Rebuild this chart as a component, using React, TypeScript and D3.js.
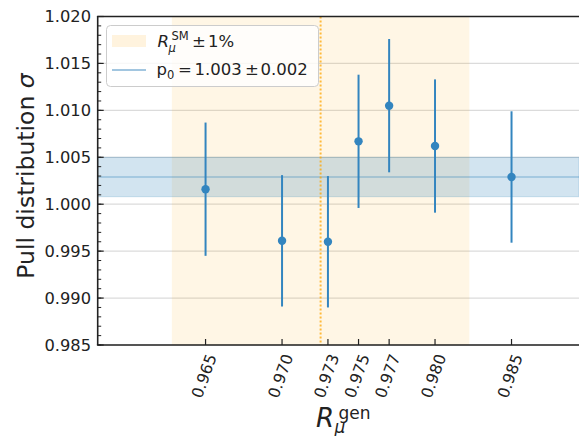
import React from "react";
import * as d3 from "d3";

const rGen = [0.965, 0.970, 0.973, 0.975, 0.977, 0.980, 0.985];
const rGenLabels = ["0.965", "0.970", "0.973", "0.975", "0.977", "0.980", "0.985"];
const pullMean = [1.0016, 0.9961, 0.9960, 1.0067, 1.0105, 1.0062, 1.0029];
const pullErr = [0.0071, 0.0070, 0.0070, 0.0071, 0.0071, 0.0071, 0.0070];
const yTicks = [0.985, 0.990, 0.995, 1.000, 1.005, 1.010, 1.015, 1.020];
const rSM = 0.97252;
const rSMRel = 0.01;
const p0 = 1.0029;
const p0Err = 0.0021;

const W = 579;
const H = 436;
const L = 97.7;
const T = 16.5;
const B = 345;
const R = 579.6;

const FONT = "DejaVu Sans";
const BLUE = "#3385bf";
const TAB = "#1f77b4";

export default function App() {
  const x = d3.scaleLinear().domain([0.95795, 0.98945]).range([L, R]);
  const y = d3.scaleLinear().domain([0.985, 1.020]).range([B, T]);
  const minor = d3.range(0, 36).map((i) => 0.985 + i * 0.001).filter((v) => v < 1.0201);

  return (
    <svg
      width={W}
      height={H}
      style={{ position: "absolute", left: 0, top: 0, background: "#fff" }}
      fontFamily={FONT}
    >
      {/* grid */}
      {yTicks.map((v, i) => (
        <line key={"g" + i} x1={L} x2={W} y1={y(v)} y2={y(v)} stroke="#b0b0b0" strokeOpacity={0.45} strokeWidth={1.2} />
      ))}
      {/* R_SM band */}
      <rect
        x={x(rSM * (1 - rSMRel))}
        y={T}
        width={x(rSM * (1 + rSMRel)) - x(rSM * (1 - rSMRel))}
        height={B - T}
        fill="orange"
        fillOpacity={0.1}
      />
      {/* p0 band */}
      <rect
        x={L}
        y={y(p0 + p0Err)}
        width={W - L}
        height={y(p0 - p0Err) - y(p0 + p0Err)}
        fill={TAB}
        fillOpacity={0.2}
        stroke={TAB}
        strokeOpacity={0.2}
        strokeWidth={1}
      />
      <line x1={L} x2={W} y1={y(p0)} y2={y(p0)} stroke={TAB} strokeOpacity={0.5} strokeWidth={1.2} />
      {/* R_SM dotted line */}
      <line x1={x(rSM)} x2={x(rSM)} y1={T} y2={B} stroke="orange" strokeOpacity={0.75} strokeWidth={2} strokeDasharray="2,2" />
      {/* error bars */}
      {rGen.map((r, i) => (
        <g key={"p" + i}>
          <line x1={x(r)} x2={x(r)} y1={y(pullMean[i] + pullErr[i])} y2={y(pullMean[i] - pullErr[i])} stroke={BLUE} strokeWidth={2} />
          <circle cx={x(r)} cy={y(pullMean[i])} r={4.2} fill={BLUE} />
        </g>
      ))}
      {/* spines */}
      <line x1={L} x2={L} y1={T} y2={B} stroke="#222" strokeWidth={1.6} />
      <line x1={L - 0.8} x2={W} y1={T} y2={T} stroke="#222" strokeWidth={1.6} />
      <line x1={L - 0.8} x2={W} y1={B} y2={B} stroke="#222" strokeWidth={1.6} />
      {/* y ticks */}
      {minor.map((v, i) => (
        <line key={"m" + i} x1={L} x2={L + 3.5} y1={y(v)} y2={y(v)} stroke="#222" strokeWidth={1} />
      ))}
      {yTicks.map((v, i) => (
        <g key={"yt" + i}>
          <line x1={L} x2={L + 6} y1={y(v)} y2={y(v)} stroke="#222" strokeWidth={1.2} />
          <text x={91} y={y(v)} textAnchor="end" dominantBaseline="central" fontSize={16.3} fill="#222">
            {d3.format(".3f")(v)}
          </text>
        </g>
      ))}
      {/* x ticks */}
      {rGen.map((r, i) => (
        <g key={"xt" + i}>
          <line x1={x(r)} x2={x(r)} y1={B} y2={B - 6} stroke="#222" strokeWidth={1.2} />
          <text
            transform={`translate(${x(r) - 1.5},376) rotate(-70)`}
            textAnchor="middle"
            dominantBaseline="central"
            fontSize={15.8}
            fill="#222"
          >
            {rGenLabels[i]}
          </text>
        </g>
      ))}
      {/* axis labels */}
      <text transform="translate(26,176) rotate(-90)" textAnchor="middle" dominantBaseline="central" fontSize={23.5} fill="#222">
        Pull distribution <tspan fontStyle="italic">σ</tspan>
      </text>
      <text x={316} y={427} fontSize={26} fill="#222">
        <tspan fontStyle="italic">R</tspan>
        <tspan x={334.5} y={433} fontSize={17} fontStyle="italic">μ</tspan>
        <tspan x={338.5} y={419} fontSize={17}>gen</tspan>
      </text>
      {/* legend */}
      <rect x={106.5} y={25.5} width={212} height={61} rx={4} fill="#fff" fillOpacity={0.8} stroke="#cccccc" strokeWidth={1} />
      <rect x={112} y={35} width={34} height={12} fill="orange" fillOpacity={0.13} />
      <text x={157.5} y={47} fontSize={16.5} fill="#222">
        <tspan fontStyle="italic">R</tspan>
        <tspan x={171.5} y={40} fontSize={11.5}>SM</tspan>
        <tspan x={168.5} y={52} fontSize={11.5} fontStyle="italic">μ</tspan>
        <tspan x={192} y={47}>±</tspan>
        <tspan x={208} y={47}>1%</tspan>
      </text>
      <line x1={112} x2={146} y1={70} y2={70} stroke={TAB} strokeOpacity={0.55} strokeWidth={1.3} />
      <text x={156.5} y={75} fontSize={16.5} fill="#222">
        <tspan>p</tspan>
        <tspan x={167} y={78.5} fontSize={11.5}>0</tspan>
        <tspan x={178} y={75}>=</tspan>
        <tspan x={194.5} y={75}>1.003</tspan>
        <tspan x={245} y={75}>±</tspan>
        <tspan x={260.5} y={75}>0.002</tspan>
      </text>
    </svg>
  );
}
